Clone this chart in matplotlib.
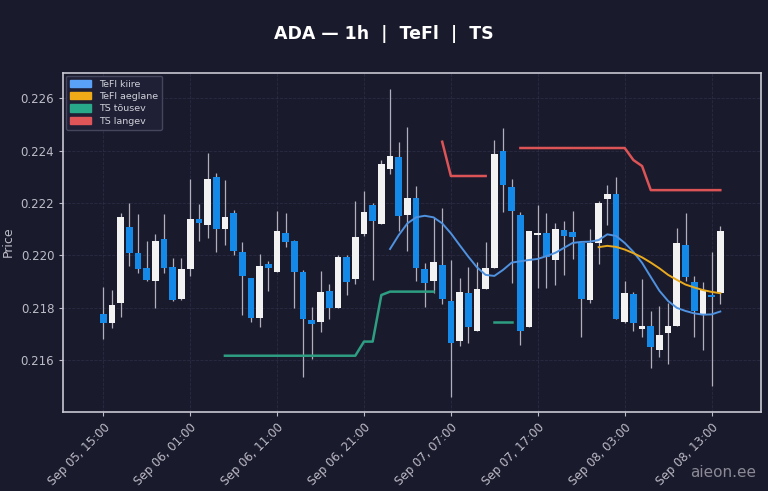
import pandas as pd
import numpy as np
import matplotlib.pyplot as plt
import matplotlib.dates as mdates
from matplotlib.patches import Patch

plt.switch_backend('Agg')

# hourly candles, Sep 05 15:00 .. Sep 08 14:00
times = pd.date_range("2025-09-05 15:00", periods=72, freq="h")

opens = [0.21776, 0.21740, 0.21817, 0.22107, 0.22010, 0.21951, 0.21902, 0.22063, 0.21956, 0.21832,
         0.21947, 0.22138, 0.22116, 0.22298, 0.22099, 0.22160, 0.22014, 0.21912, 0.21759, 0.21966,
         0.21937, 0.22084, 0.22055, 0.21935, 0.21753, 0.21743, 0.21864, 0.21798, 0.21995, 0.21908,
         0.22081, 0.22192, 0.22118, 0.22329, 0.22377, 0.22154, 0.22218, 0.21947, 0.21903, 0.21963,
         0.21827, 0.21674, 0.21855, 0.21712, 0.21870, 0.21950, 0.22400, 0.22260, 0.22154, 0.21725,
         0.22076, 0.22084, 0.21982, 0.22097, 0.22088, 0.22048, 0.21829, 0.22046, 0.22214, 0.22234,
         0.21746, 0.21852, 0.21717, 0.21731, 0.21638, 0.21704, 0.21730, 0.22039, 0.21899, 0.21776,
         0.21848, 0.21855]
highs = [0.21880, 0.21867, 0.22160, 0.22199, 0.22158, 0.22056, 0.22081, 0.22158, 0.21989, 0.21989,
         0.22290, 0.22195, 0.22390, 0.22316, 0.22288, 0.22173, 0.22052, 0.21915, 0.22004, 0.21978,
         0.22170, 0.22163, 0.22058, 0.21944, 0.21804, 0.21941, 0.21890, 0.22001, 0.22001, 0.22209,
         0.22247, 0.22200, 0.22364, 0.22634, 0.22434, 0.22491, 0.22265, 0.21969, 0.22141, 0.22180,
         0.21982, 0.21912, 0.21954, 0.21976, 0.22052, 0.22440, 0.22485, 0.22290, 0.22167, 0.22094,
         0.22192, 0.22160, 0.22125, 0.22131, 0.22170, 0.22048, 0.22099, 0.22209, 0.22269, 0.22298,
         0.21903, 0.21861, 0.21908, 0.21788, 0.21806, 0.21819, 0.22103, 0.22160, 0.21921, 0.21899,
         0.22014, 0.22112]
lows = [0.21679, 0.21723, 0.21763, 0.21960, 0.21931, 0.21903, 0.21798, 0.21931, 0.21825, 0.21830,
        0.21921, 0.22055, 0.22065, 0.22014, 0.22039, 0.22001, 0.21772, 0.21743, 0.21725, 0.21865,
        0.21937, 0.22031, 0.21798, 0.21536, 0.21603, 0.21708, 0.21755, 0.21798, 0.21848, 0.21890,
        0.22074, 0.21906, 0.22118, 0.22309, 0.22094, 0.22018, 0.21903, 0.21801, 0.21855, 0.21814,
        0.21460, 0.21653, 0.21666, 0.21712, 0.21870, 0.21950, 0.22167, 0.21893, 0.21657, 0.21725,
        0.21874, 0.21874, 0.21887, 0.21925, 0.21985, 0.21689, 0.21819, 0.21967, 0.22116, 0.21755,
        0.21740, 0.21712, 0.21689, 0.21568, 0.21610, 0.21585, 0.21730, 0.21903, 0.21689, 0.21638,
        0.21501, 0.21814]
closes = [0.21740, 0.21810, 0.22145, 0.22010, 0.21949, 0.21906, 0.22056, 0.21953, 0.21829, 0.21948,
          0.22138, 0.22125, 0.22290, 0.22099, 0.22147, 0.22016, 0.21921, 0.21759, 0.21959, 0.21953,
          0.22093, 0.22052, 0.21937, 0.21755, 0.21738, 0.21861, 0.21798, 0.21995, 0.21897, 0.22071,
          0.22164, 0.22131, 0.22348, 0.22381, 0.22150, 0.22218, 0.21950, 0.21895, 0.21976, 0.21832,
          0.21666, 0.21861, 0.21725, 0.21870, 0.21950, 0.22387, 0.22269, 0.22170, 0.21712, 0.22094,
          0.22084, 0.21995, 0.22099, 0.22074, 0.22069, 0.21832, 0.22048, 0.22199, 0.22234, 0.21755,
          0.21857, 0.21740, 0.21731, 0.21649, 0.21696, 0.21731, 0.22046, 0.21916, 0.21788, 0.21867,
          0.21842, 0.22094]

# TeFl fast line, from candle 33
tefl_fast = [0.22024, 0.22077, 0.22122, 0.22145, 0.22151, 0.22145, 0.22122, 0.22084, 0.22039, 0.21995,
             0.21954, 0.21925, 0.21921, 0.21944, 0.21972, 0.21977, 0.21982, 0.21986, 0.21997, 0.22009,
             0.22028, 0.22047, 0.22051, 0.22052, 0.22058, 0.22080, 0.22074, 0.22047, 0.22013, 0.21971,
             0.21917, 0.21864, 0.21825, 0.21799, 0.21787, 0.21778, 0.21773, 0.21774, 0.21785]
# TeFl slow line, from candle 57
tefl_slow = [0.22031, 0.22036, 0.22032, 0.22022, 0.22008, 0.21992, 0.21972, 0.21950, 0.21925, 0.21906,
             0.21888, 0.21877, 0.21867, 0.21860, 0.21855]

# trailing stop segments: (start index, values)
ts_up = [(14, [0.21616] * 16 + [0.21670, 0.21670, 0.21848] + [0.21861] * 6),
         (45, [0.21744, 0.21744, 0.21744])]
ts_down = [(39, [0.22434] + [0.22303] * 5),
           (48, [0.22410] * 13 + [0.22364, 0.22341] + [0.22249] * 9)]

BG = '#1a1a2d'
UP = '#f2f2f2'
DOWN = '#1589e8'
WICK = '#b0b0bc'
C_FAST = '#4f92e0'
C_SLOW = '#e8a91c'
C_TSU = '#2e9e82'
C_TSD = '#dc5456'

fig = plt.figure(figsize=(7.68, 4.91), dpi=100, facecolor=BG)
ax = fig.add_axes([0.0824, 0.1615, 0.9081, 0.6905], facecolor=BG)

x = mdates.date2num(times)
w = 0.77 / 24
for xi, o, h, l, c in zip(x, opens, highs, lows, closes):
    col = UP if c >= o else DOWN
    ax.vlines(xi, l, h, color=WICK, linewidth=0.9, zorder=2)
    lo, hi = min(o, c), max(o, c)
    ax.bar(xi, max(hi - lo, 0.00004), width=w, bottom=lo if hi - lo >= 0.00004 else (lo + hi) / 2 - 0.00002,
           color=col, edgecolor='none', zorder=3)

ax.plot(x[33:33 + len(tefl_fast)], tefl_fast, color=C_FAST, linewidth=1.4, zorder=4)
ax.plot(x[57:57 + len(tefl_slow)], tefl_slow, color=C_SLOW, linewidth=1.4, zorder=4)
for start, vals in ts_up:
    ax.plot(x[start:start + len(vals)], vals, color=C_TSU, linewidth=1.8, zorder=4)
for start, vals in ts_down:
    ax.plot(x[start:start + len(vals)], vals, color=C_TSD, linewidth=1.8, zorder=4)

x0 = mdates.date2num(times[0])
ax.set_xlim(x0 - 4.6 / 24, x0 + 75.65 / 24)
ax.set_ylim(0.21402, 0.22698)
ax.set_yticks([0.216, 0.218, 0.220, 0.222, 0.224, 0.226])
ax.yaxis.set_major_formatter(plt.FormatStrFormatter('%.3f'))
ax.set_xticks(x[::10])
ax.xaxis.set_major_formatter(mdates.DateFormatter('%b %d, %H:%M'))
for lab in ax.get_xticklabels():
    lab.set_rotation(45)
    lab.set_ha('right')
    lab.set_rotation_mode('anchor')

ax.tick_params(colors='#bcbcc8', labelsize=8.5, length=3)
ax.grid(True, color='#3a3d58', linewidth=0.6, alpha=0.5, linestyle='--')
ax.set_axisbelow(True)
for sp in ax.spines.values():
    sp.set_color('#c8c8d2')
    sp.set_linewidth(1.2)

ax.set_ylabel('Price', color='#bcbcc8', fontsize=9)
fig.suptitle('ADA — 1h  |  TeFl  |  TS', color='white', fontsize=12.5, fontweight='bold', y=0.95)

handles = [Patch(color='#5aa2f8', label='TeFl kiire'), Patch(color='#f0aa18', label='TeFl aeglane'),
           Patch(color='#27a98a', label='TS tõusev'), Patch(color='#e05558', label='TS langev')]
leg = ax.legend(handles=handles, loc='upper left', fontsize=6.8, facecolor='#1f2036',
                edgecolor='#44465e', framealpha=1.0, handlelength=2.2, handleheight=0.8,
                labelspacing=0.35, borderpad=0.45, borderaxespad=0.3)
for t in leg.get_texts():
    t.set_color('#d0d0d8')

fig.text(0.985, 0.022, 'aieon.ee', color='#8a8a96', fontsize=11, ha='right', va='bottom')

plt.savefig('out.png', dpi=100, facecolor=BG)
